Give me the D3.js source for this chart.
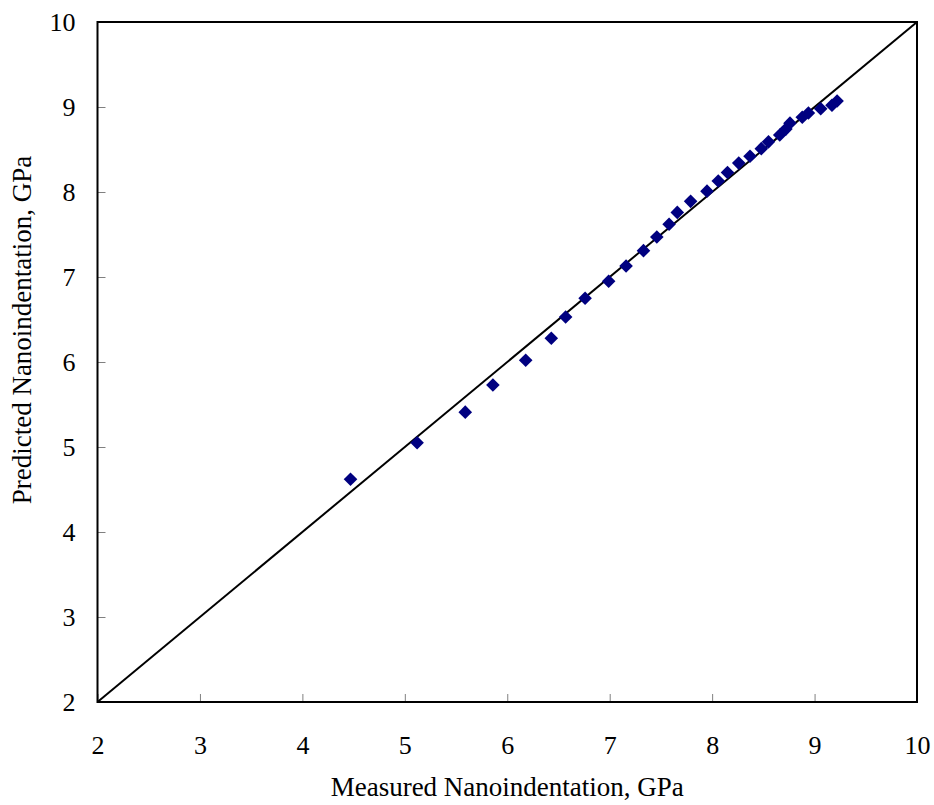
<!DOCTYPE html>
<html>
  <head>
    <meta charset="utf-8">
    <style>
      body {
        margin: 0;
        background: #fff;
        font-family: "Liberation Serif", "Times New Roman", serif;
      }
      .tick text {
        font-size: 26px;
        font-family: "Liberation Serif", serif;
        fill: #000;
      }
      .tick line {
        stroke: #808080;
      }
      .axis path {
        display: none;
      }
    </style>
  </head>
  <body>
    <script src="https://d3js.org/d3.v7.min.js"></script>
    <script>
      // measured vs predicted hardness (GPa)
      var measured = [4.47, 5.12, 5.59, 5.86, 6.18, 6.43, 6.57, 6.76, 6.99, 7.16,
                      7.33, 7.46, 7.58, 7.66, 7.79, 7.95, 8.06, 8.15, 8.26, 8.37,
                      8.48, 8.55, 8.66, 8.72, 8.76, 8.88, 8.94, 9.06, 9.17, 9.22];
      var predicted = [4.62, 5.05, 5.41, 5.73, 6.02, 6.28, 6.53, 6.75, 6.95, 7.13,
                       7.31, 7.47, 7.62, 7.76, 7.89, 8.01, 8.13, 8.23, 8.34, 8.42,
                       8.51, 8.59, 8.67, 8.74, 8.81, 8.88, 8.93, 8.98, 9.02, 9.07];
      var xTicks = [2, 3, 4, 5, 6, 7, 8, 9, 10];
      var yTicks = [2, 3, 4, 5, 6, 7, 8, 9, 10];
      var lineEnds = [2, 10];

      var width = 934, height = 805;
      var margin = {top: 22, right: 17, bottom: 103, left: 97.5};

      var svg = d3.select("body").append("svg")
          .attr("width", width)
          .attr("height", height);

      var x = d3.scaleLinear().domain([2, 10])
          .range([margin.left, width - margin.right]);
      var y = d3.scaleLinear().domain([2, 10])
          .range([height - margin.bottom, margin.top]);

      // ticks point inward
      svg.append("g")
          .attr("class", "axis")
          .attr("transform", "translate(0," + y(2) + ")")
          .call(d3.axisTop(x).tickValues(xTicks).tickSize(8).tickFormat(d3.format("d")))
          .selectAll("text")
            .attr("y", 43)
            .attr("dy", "0.35em");

      svg.append("g")
          .attr("class", "axis")
          .attr("transform", "translate(" + x(2) + ",0)")
          .call(d3.axisRight(y).tickValues(yTicks).tickSize(8).tickFormat(d3.format("d")))
          .selectAll("text")
            .attr("x", -22)
            .attr("text-anchor", "end");

      // plot frame
      svg.append("rect")
          .attr("x", x(2))
          .attr("y", y(10))
          .attr("width", x(10) - x(2))
          .attr("height", y(2) - y(10))
          .attr("fill", "none")
          .attr("stroke", "#000")
          .attr("stroke-width", 2);

      // 1:1 line
      svg.append("line")
          .attr("x1", x(lineEnds[0])).attr("y1", y(lineEnds[0]))
          .attr("x2", x(lineEnds[1])).attr("y2", y(lineEnds[1]))
          .attr("stroke", "#000")
          .attr("stroke-width", 2);

      var diamond = d3.symbol().type(d3.symbolDiamond2).size(118);

      svg.append("g").selectAll("path")
          .data(measured)
        .enter().append("path")
          .attr("d", diamond)
          .attr("transform", function(d, i) {
            return "translate(" + x(d) + "," + y(predicted[i]) + ")";
          })
          .attr("fill", "#000080");

      svg.append("text")
          .attr("x", (x(2) + x(10)) / 2)
          .attr("y", 787)
          .attr("dy", "0.35em")
          .attr("text-anchor", "middle")
          .style("font-size", "27px")
          .text("Measured Nanoindentation, GPa");

      svg.append("text")
          .attr("transform", "translate(22,330) rotate(-90)")
          .attr("dy", "0.35em")
          .attr("text-anchor", "middle")
          .style("font-size", "27px")
          .text("Predicted Nanoindentation, GPa");
    </script>
  </body>
</html>
